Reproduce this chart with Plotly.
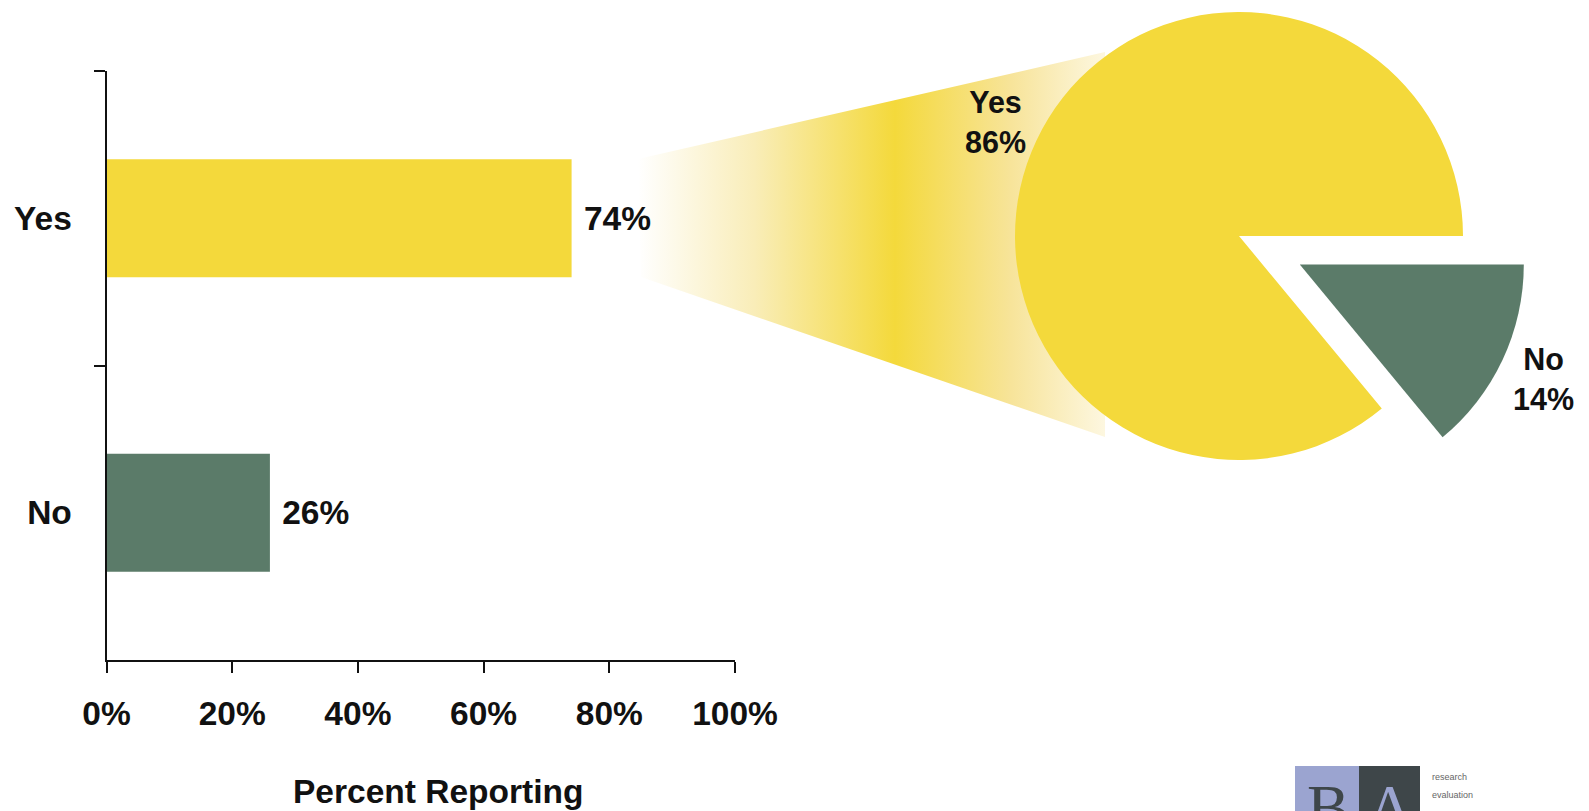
"""
Bar chart of reporting, with an exploded pie pulled out of the 'Yes' bar
"""

import math
import plotly.graph_objects as go

# data
bar_categories = ['Yes', 'No']
bar_values = [74, 26]
pie_labels = ['Yes', 'No']
pie_values = [86, 14]
x_ticks = [0, 20, 40, 60, 80, 100]
x_tick_labels = ['0%', '20%', '40%', '60%', '80%', '100%']
axis_title = 'Percent Reporting'

# styling
W, H = 1589, 811
OFF = 8  # the page body margin shifts the figure by this much
YELLOW = '#F4D93B'
GREEN = '#5B7B69'
INK = '#111111'
FONT = 'Liberation Sans, Arial, sans-serif'
BIG = 33.5

# pie geometry in pixels
PIE_CX, PIE_CY, PIE_R = 1239, 236, 224
PULL = 0.30
LABEL_R = 1.2  # pie labels sit on the slice bisector, this many radii out


def px_x(x):
    return (x - OFF) / W


def px_y(y):
    return 1 - (y - OFF) / H


def pie_domain(cx, cy, r):
    return dict(x=[px_x(cx - r), px_x(cx + r)], y=[px_y(cy + r), px_y(cy - r)])


fig = go.Figure()

# gradient funnel from the bar to the pie (full-page axes in pixel units, drawn first)
funnel_x = [638, 1105, 1105, 641, 638]
funnel_y = [159, 52, 437, 277, 159]
fig.add_trace(go.Scatter(
    x=funnel_x, y=funnel_y, xaxis='x', yaxis='y',
    mode='lines', line=dict(width=0), fill='toself',
    fillgradient=dict(type='horizontal', colorscale=[
        [0, 'rgb(255,255,255)'], [0.25, '#F9EDB8'], [0.55, YELLOW],
        [0.8, '#F7E49A'], [1, '#FDF7E0']]),
    hoverinfo='skip', showlegend=False))

# bars
fig.add_trace(go.Bar(
    x=bar_values, y=bar_categories, orientation='h', xaxis='x2', yaxis='y2',
    marker=dict(color=[YELLOW, GREEN], line=dict(width=0)),
    width=0.4,
    texttemplate='\u00a0%{x}%', textposition='outside', constraintext='none',
    cliponaxis=False,
    textfont=dict(family=FONT, size=BIG, color=INK, weight='bold'),
    showlegend=False))

# pie: the big slice, and the pulled-out small slice drawn as a shifted copy
total = sum(pie_values)
no_frac = pie_values[1] / total
no_mid = math.radians(360 * no_frac / 2)
dx = PULL * PIE_R * math.cos(no_mid)
dy = PULL * PIE_R * math.sin(no_mid)
rot = 90 + 360 * no_frac

fig.add_trace(go.Pie(
    labels=pie_labels, values=pie_values, sort=False,
    direction='clockwise', rotation=rot,
    marker=dict(colors=[YELLOW, 'rgba(0,0,0,0)'], line=dict(width=0)),
    textinfo='none',
    domain=pie_domain(PIE_CX, PIE_CY, PIE_R), showlegend=False))

fig.add_trace(go.Pie(
    labels=pie_labels, values=pie_values, sort=False,
    direction='clockwise', rotation=rot,
    marker=dict(colors=['rgba(0,0,0,0)', GREEN], line=dict(width=0)),
    textinfo='none',
    domain=pie_domain(PIE_CX + dx, PIE_CY + dy, PIE_R), showlegend=False))

# pie labels on each slice's bisector (yes angle counter-clockwise from 3 o'clock,
# no angle clockwise from 3 o'clock)
yes_mid = math.radians(360 * (1 - no_frac) / 2)
pie_label_pos = [
    (PIE_CX + LABEL_R * PIE_R * math.cos(yes_mid), PIE_CY - LABEL_R * PIE_R * math.sin(yes_mid)),
    (PIE_CX + dx + LABEL_R * PIE_R * math.cos(no_mid), PIE_CY + dy + LABEL_R * PIE_R * math.sin(no_mid)),
]

# logo in the bottom right corner
shapes = [
    dict(type='rect', xref='paper', yref='paper', x0=px_x(1295), x1=px_x(1359),
         y0=px_y(830), y1=px_y(766), fillcolor='#9BA4D0', line=dict(width=0)),
    dict(type='rect', xref='paper', yref='paper', x0=px_x(1359), x1=px_x(1420),
         y0=px_y(830), y1=px_y(766), fillcolor='#3E4649', line=dict(width=0)),
]
annotations = [
    dict(text=axis_title, x=px_x(438), y=px_y(791), xref='paper', yref='paper',
         showarrow=False, xanchor='center', yanchor='middle',
         font=dict(family=FONT, size=BIG, color=INK, weight='bold')),
    dict(text='B', x=px_x(1328), y=px_y(770), xref='paper', yref='paper',
         showarrow=False, xanchor='center', yanchor='top',
         font=dict(family='Liberation Serif', size=64, color='#3E4649')),
    dict(text='A', x=px_x(1390), y=px_y(770), xref='paper', yref='paper',
         showarrow=False, xanchor='center', yanchor='top',
         font=dict(family='Liberation Serif', size=64, color='#9BA4D0')),
    dict(text='research', x=px_x(1430), y=px_y(777), xref='paper', yref='paper',
         showarrow=False, xanchor='left', yanchor='middle',
         font=dict(family=FONT, size=9, color='#666666')),
    dict(text='evaluation', x=px_x(1430), y=px_y(795), xref='paper', yref='paper',
         showarrow=False, xanchor='left', yanchor='middle',
         font=dict(family=FONT, size=9, color='#666666')),
]
for (lx, ly), lab, val in zip(pie_label_pos, pie_labels, pie_values):
    annotations.append(dict(
        text=f'{lab}<br>{val}%', x=px_x(lx), y=px_y(ly), xref='paper', yref='paper',
        showarrow=False, xanchor='center', yanchor='middle',
        font=dict(family=FONT, size=30.5, color=INK, weight='bold')))

fig.update_layout(
    width=W, height=H,
    margin=dict(l=0, r=0, t=0, b=0, pad=0, autoexpand=False),
    paper_bgcolor='white', plot_bgcolor='rgba(0,0,0,0)',
    font=dict(family=FONT, color=INK),
    xaxis=dict(domain=[0, 1], range=[OFF, W + OFF], visible=False, anchor='y',
               automargin=False),
    yaxis=dict(domain=[0, 1], range=[H + OFF, OFF], visible=False, anchor='x',
               automargin=False),
    xaxis2=dict(domain=[px_x(106.5), px_x(735)], range=[0, 100], automargin=False,
                anchor='y2',
                tickvals=x_ticks, ticktext=x_tick_labels,
                showline=True, linecolor=INK, linewidth=2, showgrid=False, zeroline=False,
                ticks='outside', ticklen=11, tickwidth=2, tickcolor=INK,
                ticklabelstandoff=12,
                tickfont=dict(family=FONT, size=BIG, color=INK, weight='bold')),
    yaxis2=dict(domain=[px_y(660), px_y(71)], type='category', automargin=False,
                anchor='x2',
                categoryorder='array', categoryarray=bar_categories, range=[1.5, -0.5],
                showline=True, linecolor=INK, linewidth=2, showgrid=False,
                ticks='outside', tickson='boundaries', ticklen=11, tickwidth=2,
                tickcolor=INK, ticklabelstandoff=26,
                tickfont=dict(family=FONT, size=BIG, color=INK, weight='bold')),
    shapes=shapes,
    annotations=annotations,
)

fig.write_html("out.html")
